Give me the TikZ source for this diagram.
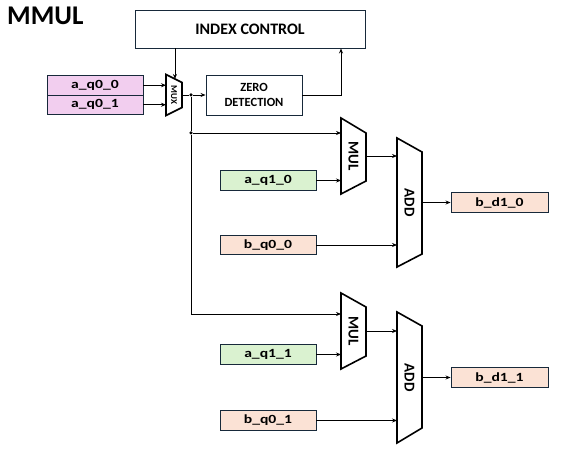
\documentclass[tikz,border=0pt]{standalone}
\usepackage{fontspec}
\usepackage{graphicx}
\setmainfont{Carlito}
\usetikzlibrary{arrows.meta,calc}
\definecolor{pinkf}{HTML}{F2CEEF}
\definecolor{greenf}{HTML}{DAF2D0}
\definecolor{peachf}{HTML}{FBE2D5}
\definecolor{bord}{HTML}{17293A}
\newcommand\wide[1]{\scalebox{1.25}[1]{#1}}
\begin{document}
\begin{tikzpicture}[x=1pt,y=-1pt,
 box/.style={draw=bord, line width=0.9pt, inner sep=0pt, font=\bfseries\fontsize{16}{18}\selectfont},
 sig/.style={box, minimum width=96pt, minimum height=19.5pt, font=\bfseries\fontsize{12.5}{15}\selectfont},
 trapbox/.style={inner sep=0pt, outer sep=0pt},
 trap/.style={draw=black, line width=1.6pt, line join=miter},
 arr/.style={draw=black, line width=0.8pt, -{Stealth[length=5pt,width=4pt]}},
 ln/.style={draw=black, line width=0.8pt},
 dot/.style={circle, fill=black, inner sep=0pt, minimum size=3.5pt},
 rlabel/.style={rotate=-90, inner sep=0pt, font=\bfseries\fontsize{15}{17}\selectfont}]
\useasboundingbox[fill=white] (0,0) rectangle (568,454);

\node[anchor=north west, inner sep=0pt, font=\bfseries\fontsize{27}{30}\selectfont] (title) at (7,7) {MMUL};

\node[box, minimum width=230pt, minimum height=38pt] (idx) at (250,29) {INDEX CONTROL};

\node[sig, fill=pinkf] (aq00) at (95,85.25) {\wide{a\_q0\_0}};
\node[sig, fill=pinkf] (aq01) at (95,104.75) {\wide{a\_q0\_1}};

% MUX
\node[trapbox, minimum width=16pt, minimum height=41pt] (mux) at (174,95) {};
\node[rlabel, font=\bfseries\fontsize{9}{10}\selectfont] (muxt) at (mux) {MUX};
\draw[trap] (mux.north west) -- ([yshift=-8pt]mux.north east) -- ([yshift=8pt]mux.south east) -- (mux.south west) -- cycle;

\node[box, minimum width=96pt, minimum height=40pt, align=center, font=\bfseries\fontsize{12.5}{15}\selectfont] (zd) at (254,95) {ZERO\\DETECTION};

% MUL / ADD units
\node[trapbox, minimum width=25pt, minimum height=76pt] (mul1) at (353.5,156) {};
\node[rlabel] (mul1t) at (mul1) {MUL};
\draw[trap] (mul1.north west) -- ([yshift=-15pt]mul1.north east) -- ([yshift=13pt]mul1.south east) -- (mul1.south west) -- cycle;

\node[trapbox, minimum width=25pt, minimum height=129pt] (add1) at (409.5,202.5) {};
\node[rlabel] (add1t) at (add1) {ADD};
\draw[trap] (add1.north west) -- ([yshift=-14pt]add1.north east) -- ([yshift=13pt]add1.south east) -- (add1.south west) -- cycle;

\node[trapbox, minimum width=25pt, minimum height=76pt] (mul2) at (353.5,331) {};
\node[rlabel] (mul2t) at (mul2) {MUL};
\draw[trap] (mul2.north west) -- ([yshift=-14pt]mul2.north east) -- ([yshift=13pt]mul2.south east) -- (mul2.south west) -- cycle;

\node[trapbox, minimum width=25pt, minimum height=131pt] (add2) at (409.5,377.5) {};
\node[rlabel] (add2t) at (add2) {ADD};
\draw[trap] (add2.north west) -- ([yshift=-14pt]add2.north east) -- ([yshift=15pt]add2.south east) -- (add2.south west) -- cycle;

% signal boxes
\node[sig, fill=greenf] (aq10) at (268,180.5) {\wide{a\_q1\_0}};
\node[sig, fill=peachf] (bq00) at (268,245) {\wide{b\_q0\_0}};
\node[sig, fill=greenf] (aq11) at (268,354.5) {\wide{a\_q1\_1}};
\node[sig, fill=peachf] (bq01) at (268,420.5) {\wide{b\_q0\_1}};
\node[sig, fill=peachf, minimum width=97pt] (bd10) at (499.5,202.5) {\wide{b\_d1\_0}};
\node[sig, fill=peachf, minimum width=97pt] (bd11) at (499.5,377.5) {\wide{b\_d1\_1}};

% connectors
\draw[arr] (aq00.east) -- (aq00.east -| mux.west);
\draw[arr] (aq01.east) -- (aq01.east -| mux.west);
\coordinate (muxin) at ($(mux.north west)!0.56!([yshift=-8pt]mux.north east)$);
\draw[arr] (idx.south -| muxin) -- (muxin);

\node[dot] (d1) at (191,95) {};
\node[dot] (d2) at (191,133) {};
\coordinate (turn) at (191,314);
\coordinate (c341) at (341,0);
\draw[ln] (mux.east) -- (d1);
\draw[arr] (d1) -- (zd.west);
\draw[arr] (zd.east) -| (idx.south -| c341);
\draw[ln] (d1) -- (d2) -- (turn);
\draw[arr] (d2) -- (d2 -| mul1.west);
\draw[arr] (turn) -- (turn -| mul2.west);

\draw[arr] (aq10.east) -- (aq10.east -| mul1.west);
\draw[arr] (mul1.east) -- (mul1.east -| add1.west);
\draw[arr] (bq00.east) -- (bq00.east -| add1.west);
\draw[arr] (add1.east) -- (bd10.west);

\draw[arr] (aq11.east) -- (aq11.east -| mul2.west);
\draw[arr] (mul2.east) -- (mul2.east -| add2.west);
\draw[arr] (bq01.east) -- (bq01.east -| add2.west);
\draw[arr] (add2.east) -- (bd11.west);
\end{tikzpicture}
\end{document}
